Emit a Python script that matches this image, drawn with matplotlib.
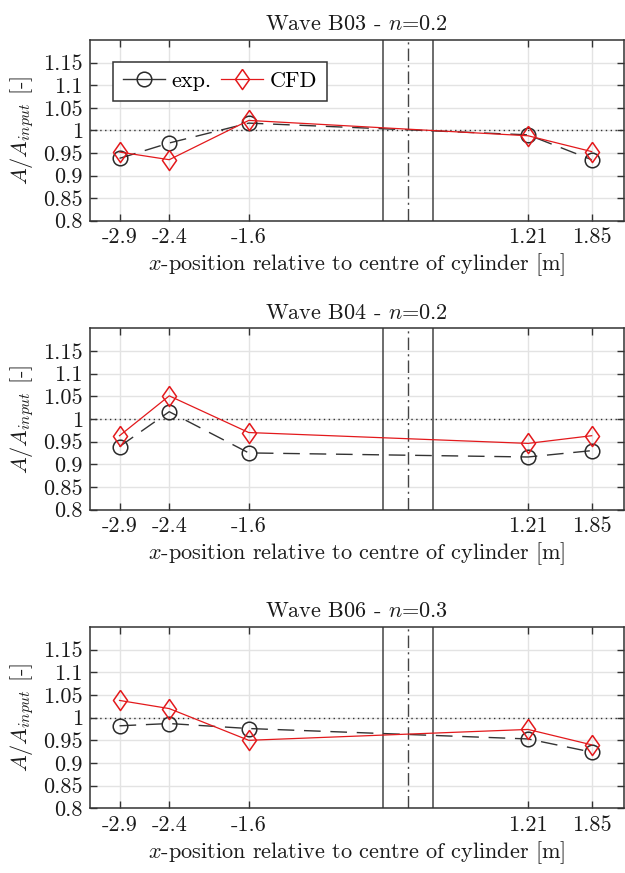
import matplotlib
matplotlib.use("Agg")
import matplotlib.pyplot as plt
from matplotlib.lines import Line2D

plt.rcParams["font.family"] = "cmr10"
plt.rcParams["mathtext.fontset"] = "cm"
plt.rcParams["axes.unicode_minus"] = False

# Probe positions relative to the cylinder centre [m]
x_pos = [-2.9, -2.4, -1.6, 1.21, 1.85]
x_ticklabels = ["-2.9", "-2.4", "-1.6", "1.21", "1.85"]

# Normalised amplitude A/A_input at each probe
titles = [r"Wave B03 - $n$=0.2", r"Wave B04 - $n$=0.2", r"Wave B06 - $n$=0.3"]
exp_b03 = [0.938, 0.972, 1.016, 0.990, 0.935]
cfd_b03 = [0.952, 0.935, 1.022, 0.988, 0.953]
exp_b04 = [0.939, 1.016, 0.925, 0.916, 0.930]
cfd_b04 = [0.963, 1.051, 0.970, 0.946, 0.963]
exp_b06 = [0.982, 0.987, 0.976, 0.953, 0.924]
cfd_b06 = [1.038, 1.020, 0.950, 0.974, 0.940]
exp_sets = [exp_b03, exp_b04, exp_b06]
cfd_sets = [cfd_b03, cfd_b04, cfd_b06]

y_ticks = [0.8, 0.85, 0.9, 0.95, 1.0, 1.05, 1.1, 1.15]
y_ticklabels = ["0.8", "0.85", "0.9", "0.95", "1", "1.05", "1.1", "1.15"]

cyl_radius = 0.25

DARK = "#333333"
TEXT = "#1a1a1a"
RED = "#e3191c"
GRID = "#e3e3e3"
FS = 16

diamond = [(0, 1), (0.7, 0), (0, -1), (-0.7, 0), (0, 1)]
exp_style = dict(color=DARK, lw=1.0, marker="o", ms=10.5, mfc="none",
                 mec="#2a2a2a", mew=1.1)
cfd_style = dict(color=RED, lw=0.9, marker=diamond, ms=14.5, mfc="none",
                 mec=RED, mew=1.1)

fig = plt.figure(figsize=(6.25, 8.73), dpi=100)
H = 873.0
W = 625.0
# (top, bottom) of each panel in pixels
panels = [(40, 220.7), (328.4, 509.5), (627, 808.3)]
left_px, right_px = 89.7, 623.5

for i, (top, bot) in enumerate(panels):
    ax = fig.add_axes([left_px / W, 1 - bot / H, (right_px - left_px) / W, (bot - top) / H])
    ax.set_xlim(-3.2, 2.17)
    ax.set_ylim(0.8, 1.2)

    ax.set_xticks(x_pos)
    ax.set_xticklabels(x_ticklabels)
    ax.set_yticks(y_ticks)
    ax.set_yticklabels(y_ticklabels)
    ax.grid(True, color=GRID, lw=1.0, zorder=0)
    ax.set_axisbelow(True)
    ax.tick_params(direction="in", length=5, width=1.0, color=DARK,
                   labelsize=FS, labelcolor=TEXT, top=True, right=True, pad=5)
    for sp in ax.spines.values():
        sp.set_color(DARK)
        sp.set_linewidth(1.1)

    # reference level and cylinder outline
    ax.axhline(1.0, color=DARK, lw=1.0, ls=(0, (1, 2.5)), zorder=1)
    ax.axvline(-cyl_radius, color="#444444", lw=1.1, zorder=1)
    ax.axvline(cyl_radius, color="#444444", lw=1.1, zorder=1)
    ax.axvline(0.0, color="#444444", lw=1.0, ls=(0, (9, 3, 1.5, 3)), zorder=1)

    ax.plot(x_pos, exp_sets[i], ls=(0, (12, 7)), zorder=3, **exp_style)
    ax.plot(x_pos, cfd_sets[i], ls="-", zorder=4, **cfd_style)

    ax.set_title(titles[i], fontsize=FS, pad=7, color=TEXT)
    ax.set_xlabel(r"$x$-position relative to centre of cylinder [m]", fontsize=FS,
                  labelpad=3, color=TEXT)
    ax.set_ylabel(r"$A/A_{input}$ [-]", fontsize=FS, labelpad=5, color=TEXT)

    if i == 0:
        handles = [Line2D([], [], ls="-", **exp_style),
                   Line2D([], [], ls="-", **cfd_style)]
        leg = ax.legend(handles, ["exp.", "CFD"], ncol=2, loc="upper left",
                        bbox_to_anchor=(0.043, 0.88), borderaxespad=0,
                        fontsize=FS, frameon=True, fancybox=False,
                        edgecolor=DARK, framealpha=1, handlelength=1.9,
                        columnspacing=0.4, handletextpad=0.3, borderpad=0.45)
        leg.get_frame().set_linewidth(1.1)

fig.savefig("out.png", dpi=100)
